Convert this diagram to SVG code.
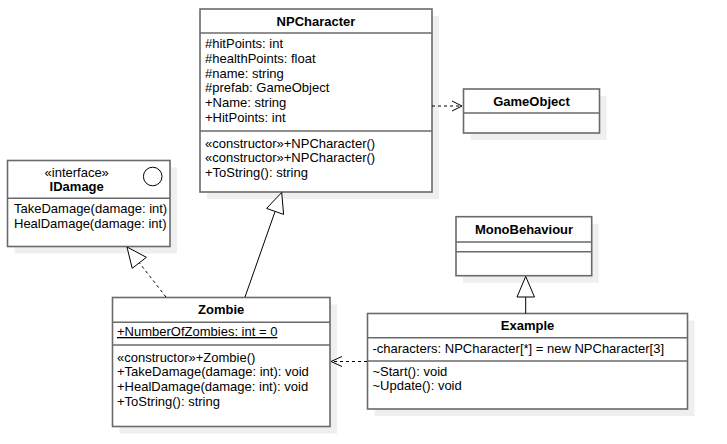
<svg xmlns="http://www.w3.org/2000/svg" width="727" height="444" viewBox="0 0 727 444">
<defs>
<style>
.sh{fill:#efefef;stroke:none}
.bx{fill:#ffffff;stroke:#6a6a6a;stroke-width:1.6}
.sep{stroke:#6a6a6a;stroke-width:1.6}
text{font-family:"Liberation Sans",Arial,sans-serif;font-size:13px;fill:#000}
.t{font-weight:bold;text-anchor:middle}
.c{text-anchor:middle}
.ln{fill:none;stroke:#000;stroke-width:1}
.dash{stroke-dasharray:3,3}
.tri{fill:#fff;stroke:#000;stroke-width:1}
</style>
</defs>
<rect width="727" height="444" fill="#fff"/>
<g id="NPCharacter">
<rect class="sh" x="207" y="16" width="232" height="183"/>
<rect class="bx" x="200" y="9" width="232" height="183"/>
<line class="sep" x1="200" y1="33" x2="432" y2="33"/>
<line class="sep" x1="200" y1="131" x2="432" y2="131"/>
<text class="t" x="316" y="26">NPCharacter</text>
<text x="205" y="48.3">#hitPoints: int</text>
<text x="205" y="63">#healthPoints: float</text>
<text x="205" y="77.7">#name: string</text>
<text x="205" y="92.4">#prefab: GameObject</text>
<text x="205" y="107">+Name: string</text>
<text x="205" y="121.8">+HitPoints: int</text>
<text x="205" y="147.7">«constructor»+NPCharacter()</text>
<text x="205" y="162.3">«constructor»+NPCharacter()</text>
<text x="205" y="177">+ToString(): string</text>
</g>
<g id="GameObject">
<rect class="sh" x="470.5" y="96" width="136" height="44"/>
<rect class="bx" x="463.5" y="89" width="136" height="44"/>
<line class="sep" x1="463.5" y1="113" x2="599.5" y2="113"/>
<text class="t" x="531.5" y="106">GameObject</text>
</g>
<g id="IDamage">
<rect class="sh" x="14.5" y="167.5" width="162.5" height="86"/>
<rect class="bx" x="7.5" y="160.5" width="162.5" height="86"/>
<line class="sep" x1="7.5" y1="198.3" x2="170" y2="198.3"/>
<text class="c" x="76.7" y="176.5">«interface»</text>
<text class="t" x="76.7" y="190.5">IDamage</text>
<circle cx="152.7" cy="176.5" r="9.3" fill="#fff" stroke="#000" stroke-width="1"/>
<text x="14" y="213.3">TakeDamage(damage: int)</text>
<text x="14" y="227.7">HealDamage(damage: int)</text>
</g>
<g id="Zombie">
<rect class="sh" x="119.5" y="304.5" width="217.5" height="129"/>
<rect class="bx" x="112.5" y="297.5" width="217.5" height="129"/>
<line class="sep" x1="112.5" y1="322.3" x2="330" y2="322.3"/>
<line class="sep" x1="112.5" y1="345" x2="330" y2="345"/>
<text class="t" x="221.2" y="313.5">Zombie</text>
<text x="117" y="336" text-decoration="underline">+NumberOfZombies: int = 0</text>
<text x="117" y="361.7">«constructor»+Zombie()</text>
<text x="117" y="376.3">+TakeDamage(damage: int): void</text>
<text x="117" y="391">+HealDamage(damage: int): void</text>
<text x="117" y="405.5">+ToString(): string</text>
</g>
<g id="MonoBehaviour">
<rect class="sh" x="463" y="223.7" width="135.7" height="59"/>
<rect class="bx" x="456" y="216.7" width="135.7" height="59"/>
<line class="sep" x1="456" y1="242" x2="591.7" y2="242"/>
<line class="sep" x1="456" y1="251.7" x2="591.7" y2="251.7"/>
<text class="t" x="524" y="233.5">MonoBehaviour</text>
</g>
<g id="Example">
<rect class="sh" x="374.5" y="320.5" width="320" height="95.5"/>
<rect class="bx" x="367.5" y="313.5" width="320" height="95.5"/>
<line class="sep" x1="367.5" y1="337.7" x2="687.5" y2="337.7"/>
<line class="sep" x1="367.5" y1="361" x2="687.5" y2="361"/>
<text class="t" x="527.5" y="329.5">Example</text>
<text x="372.5" y="353.3">-characters: NPCharacter[*] = new NPCharacter[3]</text>
<text x="372.5" y="376">~Start(): void</text>
<text x="372.5" y="390">~Update(): void</text>
</g>
<g id="connectors">
<line class="ln dash" x1="432" y1="106" x2="462" y2="106"/>
<polyline class="ln" points="452,101 462,106 452,111"/>
<line class="ln dash" x1="166" y1="297" x2="139.3" y2="262.8"/>
<polygon class="tri" points="127,247 146.4,257.3 132.2,268.3"/>
<line class="ln" x1="245" y1="297" x2="275.1" y2="211.4"/>
<polygon class="tri" points="281.7,192.5 283.6,214.4 266.6,208.4"/>
<line class="ln" x1="525.7" y1="297" x2="525.7" y2="313.5"/>
<polygon class="tri" points="525.7,276.5 534.5,297 517,297"/>
<line class="ln dash" x1="367" y1="361.5" x2="331" y2="361.5"/>
<polyline class="ln" points="342,356.5 331,361.5 342,366.5"/>
</g>
</svg>
